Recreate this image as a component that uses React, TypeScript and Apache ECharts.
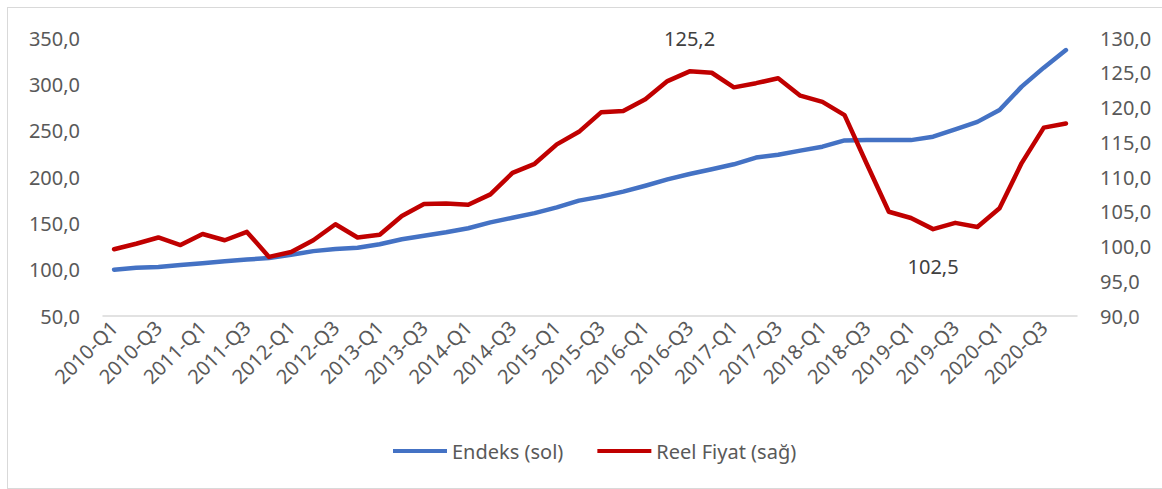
import React, { useEffect, useRef } from "react";
import * as echarts from "echarts";

const years = [2010, 2011, 2012, 2013, 2014, 2015, 2016, 2017, 2018, 2019, 2020];
const categories: string[] = [];
years.forEach((y) => ["Q1", "Q2", "Q3", "Q4"].forEach((q) => categories.push(`${y}-${q}`)));

const endeks = [
  100, 102, 103, 105, 107, 109, 111, 112.5, 116, 120, 122.3, 123.7,
  127.4, 132.8, 136.7, 140.3, 144.7, 151, 156, 161, 167.3, 174.5, 178.8, 184.2,
  190.6, 197.5, 203.2, 208.3, 213.7, 221, 224, 228.5, 232.7, 239.5, 240, 240,
  239.8, 243.5, 251.5, 259.5, 272.3, 297.5, 318, 337,
];

const reelFiyat = [
  99.6, 100.4, 101.3, 100.2, 101.8, 100.9, 102.1, 98.5, 99.2, 100.9, 103.2, 101.3,
  101.7, 104.4, 106.1, 106.2, 106.0, 107.5, 110.6, 111.9, 114.7, 116.5, 119.3, 119.5,
  121.2, 123.8, 125.2, 125.0, 122.9, 123.5, 124.2, 121.7, 120.8, 118.9, 111.9, 105.0,
  104.1, 102.5, 103.4, 102.8, 105.5, 112.0, 117.1, 117.7,
];

const leftTicks = { min: 50, max: 350, interval: 50 };
const rightTicks = { min: 90, max: 130, interval: 5 };
const labelledPoints = [
  { index: 26, position: "top", distance: 23 },
  { index: 37, position: "bottom", distance: 27 },
];

const fmt = (v: number) => v.toFixed(1).replace(".", ",");
const FONT = "'Noto Sans', sans-serif";

export default function App() {
  const ref = useRef<HTMLDivElement>(null);
  useEffect(() => {
    if (!ref.current) return;
    const chart = echarts.init(ref.current, undefined, { renderer: "svg" });
    const redData = reelFiyat.map((v, i) => {
      const lp = labelledPoints.find((p) => p.index === i);
      if (!lp) return { value: v, label: { show: false } };
      return {
        value: v,
        label: {
          show: true,
          position: lp.position,
          distance: lp.distance,
          formatter: (p: any) => fmt(p.value),
          color: "#404040",
          fontSize: 20,
          fontFamily: FONT,
        },
      };
    });
    chart.setOption({
      animation: false,
      textStyle: { fontFamily: FONT },
      grid: { left: 95, right: 91, top: 30, bottom: 172 },
      legend: {
        left: 380,
        top: 428,
        itemWidth: 54,
        itemHeight: 4,
        itemGap: 34,
        icon: "rect",
        textStyle: { fontSize: 20, color: "#595959", fontFamily: FONT },
        data: ["Endeks (sol)", "Reel Fiyat (sağ)"],
      },
      xAxis: {
        type: "category",
        data: categories,
        boundaryGap: true,
        axisLine: { lineStyle: { color: "#d9d9d9", width: 1.5 } },
        axisTick: { show: false },
        axisLabel: {
          interval: 1,
          rotate: 45,
          margin: 8,
          fontSize: 20,
          color: "#595959",
          fontFamily: FONT,
        },
      },
      yAxis: [
        {
          type: "value",
          ...leftTicks,
          axisLine: { show: false },
          axisTick: { show: false },
          splitLine: { show: false },
          axisLabel: { formatter: fmt, fontSize: 20, color: "#595959", margin: 23, fontFamily: FONT },
        },
        {
          type: "value",
          ...rightTicks,
          position: "right",
          axisLine: { show: false },
          axisTick: { show: false },
          splitLine: { show: false },
          axisLabel: { formatter: fmt, fontSize: 20, color: "#595959", margin: 23, fontFamily: FONT },
        },
      ],
      series: [
        {
          name: "Endeks (sol)",
          type: "line",
          yAxisIndex: 0,
          data: endeks,
          symbol: "none",
          lineStyle: { color: "#4472C4", width: 4.5, cap: "round", join: "round" },
          itemStyle: { color: "#4472C4" },
        },
        {
          name: "Reel Fiyat (sağ)",
          type: "line",
          yAxisIndex: 1,
          data: redData,
          symbol: "circle",
          symbolSize: 0.01,
          showSymbol: true,
          showAllSymbol: true,
          lineStyle: { color: "#C00000", width: 4.5, cap: "round", join: "round" },
          itemStyle: { color: "#C00000" },
        },
      ],
    });
    return () => chart.dispose();
  }, []);
  return (
    <div
      style={{
        position: "absolute",
        left: 7,
        top: 7,
        width: 1160,
        height: 480,
        border: "1px solid #d9d9d9",
        background: "#fff",
      }}
    >
      <div ref={ref} style={{ width: 1160, height: 480 }} />
    </div>
  );
}
